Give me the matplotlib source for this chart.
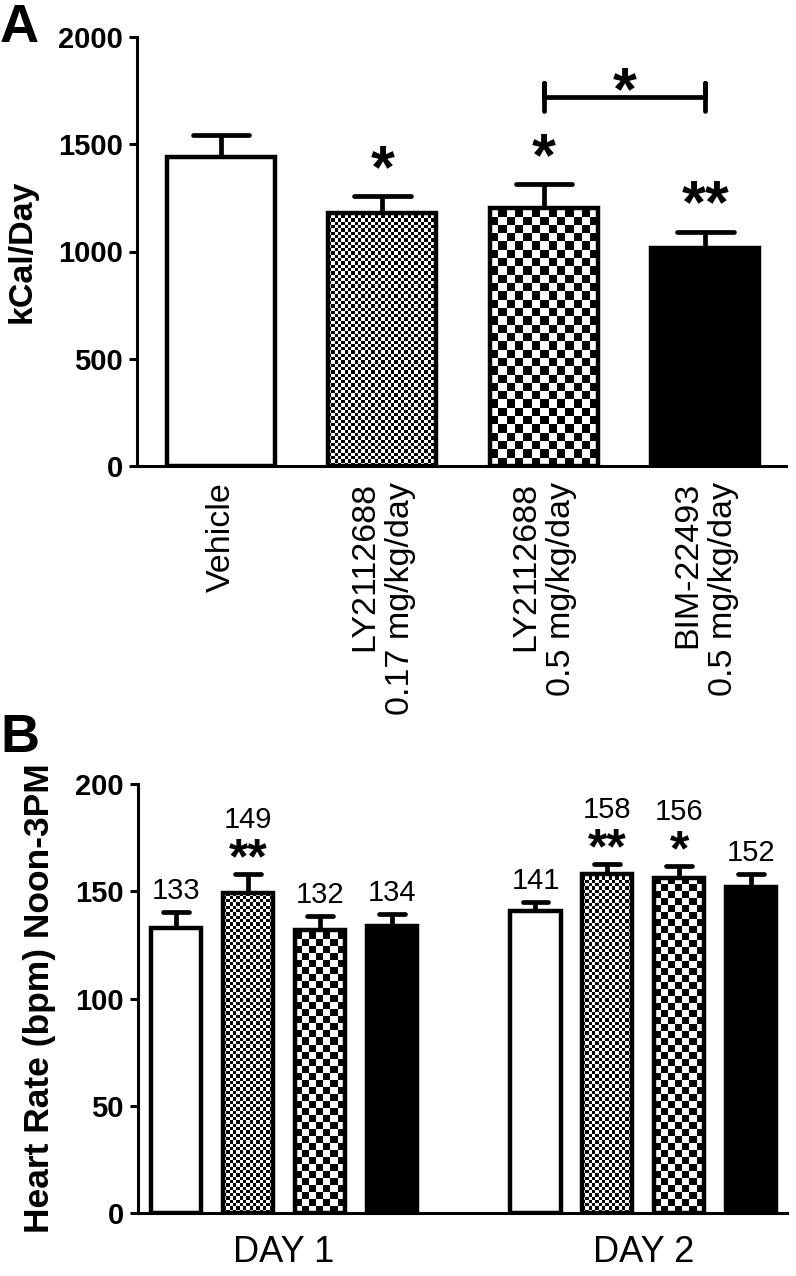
import numpy as np
import matplotlib
matplotlib.use("Agg")
import matplotlib.pyplot as plt
from matplotlib.colors import ListedColormap

plt.rcParams['font.family'] = ['Liberation Sans', 'DejaVu Sans']

# ---------------- data ----------------
a_categories = ['Vehicle', 'LY2112688\n0.17 mg/kg/day',
                'LY2112688\n0.5 mg/kg/day', 'BIM-22493\n0.5 mg/kg/day']
a_means = [1440, 1179, 1205, 1015]
a_sem = [101, 81, 110, 78]
a_stars = ['', '*', '*', '**']
a_compare = (2, 3)          # bars compared by the bracket
a_compare_label = '*'
a_compare_level = 1720

b_days = ['DAY 1', 'DAY 2']
b_means = [133, 149, 132, 134, 141, 158, 156, 152]
b_sem = [7.3, 9.0, 6.5, 5.4, 4.0, 4.7, 5.8, 6.0]
b_stars = ['', '**', '', '', '', '**', '*', '']
b_value_labels = [str(v) for v in b_means]

fills = ['white', 'fine', 'coarse', 'black']

# ---------------- figure ----------------
W, H = 796, 1276
fig = plt.figure(figsize=(W / 100, H / 100), dpi=100)
axA = fig.add_axes([137 / W, 1 - 466 / H, 649 / W, 429 / H])
axB = fig.add_axes([138 / W, 1 - 1213 / H, 649 / W, 429 / H])

PX = 0.72  # points per pixel


def checker(ax, bar, cell_px):
    bb = bar.get_window_extent()
    nx = int(np.ceil(bb.width / cell_px)) + 1
    ny = int(np.ceil(bb.height / cell_px)) + 1
    arr = np.add.outer(np.arange(ny), np.arange(nx)) % 2
    inv = ax.transData.inverted()
    x0, y0 = inv.transform((bb.x0, bb.y0))
    x1, y1 = inv.transform((bb.x0 + nx * cell_px, bb.y0 + ny * cell_px))
    im = ax.imshow(arr, cmap=ListedColormap(['white', 'black']),
                   extent=(x0, x1, y0, y1), origin='lower',
                   interpolation='nearest', aspect='auto', zorder=2.5)
    im.set_clip_path(bar)


def draw_panel(ax, xs, means, sems, width, xlim, ylim, edge_lw, err_lw,
               cap_half, cells):
    ax.set_xlim(xlim)
    ax.set_ylim(ylim)
    n = len(means)
    faces = []
    for i in range(n):
        f = fills[i % 4]
        faces.append(f if f in ('white', 'black') else 'none')
    bars = ax.bar(xs, means, width=width, color=faces, edgecolor='black',
                  linewidth=edge_lw, zorder=3)
    for i, b in enumerate(bars):
        f = fills[i % 4]
        if f == 'fine':
            checker(ax, b, cells[0])
        elif f == 'coarse':
            checker(ax, b, cells[1])
    xs = np.asarray(xs, float)
    tops = np.asarray(means, float) + np.asarray(sems, float)
    ax.vlines(xs, means, tops, color='black', lw=err_lw, zorder=2,
              capstyle='butt')
    ax.hlines(tops, xs - cap_half, xs + cap_half, color='black', lw=err_lw,
              zorder=4, capstyle='round')
    ax.set_xlim(xlim)
    ax.set_ylim(ylim)
    for s in ('top', 'right'):
        ax.spines[s].set_visible(False)
    for s in ('left', 'bottom'):
        ax.spines[s].set_linewidth(2.2)
    return tops


def star(ax, x, y, text, center_px, size):
    # place the ink centre of the asterisks roughly center_px above (x, y)
    em_px = size / PX
    base = center_px - 0.573 * em_px
    ax.annotate(text, xy=(x, y), xytext=(0, base * PX),
                textcoords='offset points', ha='center', va='baseline',
                fontsize=size, fontweight='bold', zorder=5,
                annotation_clip=False)


# ---------------- panel A ----------------
xa = np.arange(len(a_means))
topsA = draw_panel(axA, xa, a_means, a_sem, 0.67, (-0.52, 3.50), (0, 2000),
                   edge_lw=3.2, err_lw=3.4, cap_half=0.175, cells=(3.3, 8.3))
axA.set_yticks(np.arange(0, 2001, 500))
axA.tick_params(axis='y', length=8 * PX, width=2.2, labelsize=21, pad=6 * PX)
plt.setp(axA.get_yticklabels(), fontweight='bold')
axA.set_xticks(xa)
axA.set_xticklabels(a_categories, rotation=90, fontsize=24.5, ha='center',
                    va='top', multialignment='right')
axA.tick_params(axis='x', length=0, pad=16 * PX)
axA.set_ylabel('kCal/Day', fontsize=24.5, fontweight='bold')
axA.yaxis.label.set_va('center')
axA.yaxis.set_label_coords((22 - 137) / 649, 0.5)

for x, t, s in zip(xa, topsA, a_stars):
    if s:
        star(axA, x, t, s, 44, 44)

i0, i1 = a_compare
tick_h = 64
axA.plot([xa[i0], xa[i0], xa[i0], xa[i1], xa[i1], xa[i1]],
         [a_compare_level - tick_h, a_compare_level + tick_h, a_compare_level,
          a_compare_level, a_compare_level + tick_h, a_compare_level - tick_h],
         color='black', lw=3.4, solid_capstyle='round',
         solid_joinstyle='round', zorder=4, clip_on=False)
star(axA, (xa[i0] + xa[i1]) / 2, a_compare_level, a_compare_label, 23, 44)

# ---------------- panel B ----------------
xb = np.array([0, 1, 2, 3, 5, 6, 7, 8])
topsB = draw_panel(axB, xb, b_means, b_sem, 0.70, (-0.53, 8.50), (0, 200),
                   edge_lw=3.2, err_lw=3.4, cap_half=0.18, cells=(3.3, 7.0))
axB.set_yticks(np.arange(0, 201, 50))
axB.tick_params(axis='y', length=8 * PX, width=2.2, labelsize=21, pad=6 * PX)
plt.setp(axB.get_yticklabels(), fontweight='bold')
axB.set_xticks([1.5, 6.5])
axB.set_xticklabels(b_days, fontsize=26)
axB.tick_params(axis='x', length=0, pad=22 * PX)
axB.set_ylabel('Heart Rate (bpm) Noon-3PM', fontsize=25.5, fontweight='bold')
axB.yaxis.label.set_va('center')
axB.yaxis.set_label_coords((40 - 138) / 649, 0.5)

for x, t, s, lab in zip(xb, topsB, b_stars, b_value_labels):
    if s:
        star(axB, x, t, s, 29, 36)
        off = 46
    else:
        off = 13
    axB.annotate(lab, xy=(x, t), xytext=(0, off * PX),
                 textcoords='offset points', ha='center', va='baseline',
                 fontsize=21, zorder=5, annotation_clip=False)

# panel letters
fig.text(0, 1 - 42 / H, 'A', fontsize=39, fontweight='bold', ha='left',
         va='baseline')
fig.text(0, 1 - 752 / H, 'B', fontsize=39, fontweight='bold', ha='left',
         va='baseline')

fig.savefig('out.png', dpi=100, facecolor='white')
